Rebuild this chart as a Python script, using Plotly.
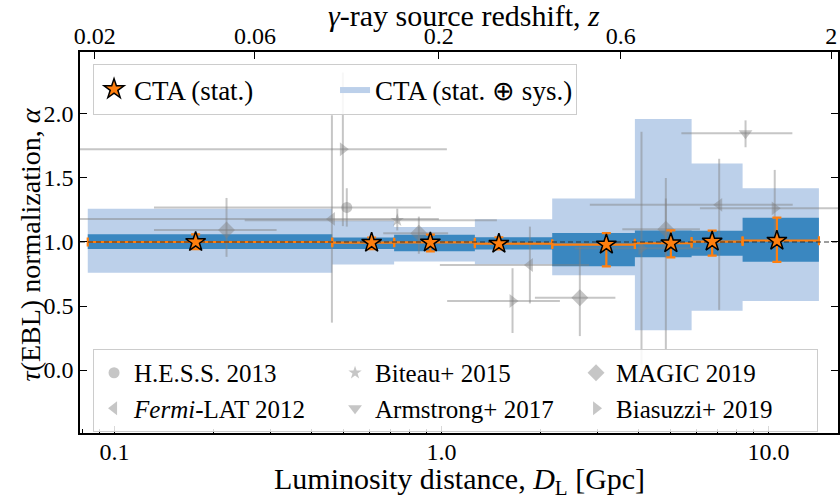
import numpy as np
import plotly.graph_objects as go

# ---------------- data ----------------
# CTA simulated constraints (luminosity-distance bins, Gpc)
cta_edges = [0.0828, 0.463, 0.716, 1.264, 2.179, 3.90, 5.815, 8.326, 14.25]
cta_dl = [0.177, 0.611, 0.924, 1.497, 3.19, 5.025, 6.72, 10.6]
cta_alpha = [1.00, 0.995, 0.997, 0.987, 0.98, 0.99, 1.003, 1.01]
cta_stat_up = [0.06, 0.04, 0.06, 0.05, 0.09, 0.10, 0.085, 0.18]
cta_stat_dn = [0.055, 0.05, 0.07, 0.045, 0.17, 0.11, 0.11, 0.165]
cta_tot_up = [0.26, 0.17, 0.12, 0.19, 0.36, 0.97, 0.61, 0.41]
cta_tot_dn = [0.24, 0.17, 0.15, 0.16, 0.24, 0.68, 0.54, 0.47]

# literature measurements: D_L [Gpc], x-range, alpha, alpha errors
hess_dl = [0.513]; hess_lo = [0.132]; hess_hi = [0.927]
hess_a = [1.27]; hess_up = [0.15]; hess_dn = [0.15]

fermi_dl = [0.462, 1.862, 7.06]; fermi_lo = [0.03, 0.988, 2.84]; fermi_hi = [0.981, 2.826, 11.85]
fermi_a = [1.18, 0.82, 1.29]; fermi_up = [0.81, 0.30, 0.36]; fermi_dn = [0.81, 0.30, 0.82]

biteau_dl = [0.732, 4.85]; biteau_lo = [0.25, 4.0]; biteau_hi = [1.476, 5.8]
biteau_a = [1.17, 0.99]; biteau_up = [0.09, 0.51]; biteau_dn = [0.08, 0.83]

armstrong_dl = [8.5]; armstrong_lo = [5.41]; armstrong_hi = [11.82]
armstrong_a = [1.85]; armstrong_up = [0.10]; armstrong_dn = [0.11]

magic_dl = [0.220, 0.852, 2.647, 4.85]; magic_lo = [0.132, 0.663, 1.929, 3.57]
magic_hi = [0.313, 1.047, 3.40, 6.166]
magic_a = [1.094, 1.068, 0.565, 1.10]; magic_up = [0.25, 0.13, 0.40, 0.24]
magic_dn = [0.21, 0.16, 0.30, 0.22]

biasuzzi_dl = [0.499, 1.648, 4.086, 10.44]; biasuzzi_lo = [0.03, 1.04, 2.555, 6.166]
biasuzzi_hi = [1.038, 2.30, 6.166, 20.0]
biasuzzi_a = [1.724, 0.539, 0.951, 1.263]; biasuzzi_up = [0.60, 0.256, 0.91, 0.30]
biasuzzi_dn = [0.60, 0.25, 0.91, 0.30]

# axes
x_range_gpc = [0.0784, 16.3]
y_range = [-0.492, 2.484]
y_ticks = [0.0, 0.5, 1.0, 1.5, 2.0]
x_tickvals = [0.1, 1.0, 10.0]
x_ticktext = ["0.1", "1.0", "10.0"]
z_ticks = [0.02, 0.06, 0.2, 0.6, 2.0]
z_ticktext = ["0.02", "0.06", "0.2", "0.6", "2"]
alpha_ref = 1.0

x_title = "Luminosity distance, <i>D</i><sub>L</sub> [Gpc]"
x2_title = "<i>γ</i>-ray source redshift, <i>z</i>"
y_title = "<i>τ</i>(EBL) normalization, <i>α</i>"

# ---------------- helpers ----------------
C_KMS = 299792.458


def lum_dist_gpc(z, H0=70.0, Om=0.3):
    zz = np.linspace(0.0, z, 4001)
    E = np.sqrt(Om * (1 + zz) ** 3 + 1 - Om)
    dc = C_KMS / H0 * np.trapezoid(1.0 / E, zz)
    return (1 + z) * dc / 1000.0


def boxes(edges, center, up, dn):
    xs, ys = [], []
    for i in range(len(center)):
        x0, x1 = edges[i], edges[i + 1]
        lo, hi = center[i] - dn[i], center[i] + up[i]
        xs += [x0, x1, x1, x0, x0, None]
        ys += [lo, lo, hi, hi, lo, None]
    return xs, ys


FONT = "Liberation Serif"
FS_TICK = 24
FS_TITLE = 30
FS_YTITLE = 28
FS_LEG1 = 27
FS_LEG2 = 25
GRAY = "rgba(128,128,128,0.45)"
LIGHT = "rgb(188,208,234)"
DARK = "rgb(58,135,192)"
ORANGE = "#ff7f0e"

fig = go.Figure()

# CTA stat+sys boxes
bx, by = boxes(cta_edges, cta_alpha, cta_tot_up, cta_tot_dn)
fig.add_trace(go.Scatter(x=bx, y=by, mode="lines", fill="toself", fillcolor=LIGHT,
                         line=dict(width=0, color=LIGHT), name="CTA (stat. ⊕ sys.)",
                         legend="legend", legendrank=2, hoverinfo="skip"))
# CTA stat boxes
bx, by = boxes(cta_edges, cta_alpha, cta_stat_up, cta_stat_dn)
fig.add_trace(go.Scatter(x=bx, y=by, mode="lines", fill="toself", fillcolor=DARK,
                         line=dict(width=0, color=DARK), showlegend=False, hoverinfo="skip"))

# literature
lit = [
    ("H.E.S.S. 2013", "circle", 11, hess_dl, hess_lo, hess_hi, hess_a, hess_up, hess_dn),
    ("Biteau+ 2015", "star", 10, biteau_dl, biteau_lo, biteau_hi, biteau_a, biteau_up, biteau_dn),
    ("MAGIC 2019", "diamond", 13, magic_dl, magic_lo, magic_hi, magic_a, magic_up, magic_dn),
    ("<i>Fermi</i>-LAT 2012", "triangle-left", 12, fermi_dl, fermi_lo, fermi_hi, fermi_a, fermi_up, fermi_dn),
    ("Armstrong+ 2017", "triangle-down", 12, armstrong_dl, armstrong_lo, armstrong_hi, armstrong_a, armstrong_up, armstrong_dn),
    ("Biasuzzi+ 2019", "triangle-right", 12, biasuzzi_dl, biasuzzi_lo, biasuzzi_hi, biasuzzi_a, biasuzzi_up, biasuzzi_dn),
]
for k, (name, sym, size, dl, lo, hi, a, up, dn) in enumerate(lit):
    dl = np.array(dl)
    fig.add_trace(go.Scatter(
        x=dl, y=a, mode="markers", name=name, legend="legend2", legendrank=10 + k,
        marker=dict(symbol=sym, size=size, color=GRAY, line=dict(width=0)),
        error_x=dict(type="data", symmetric=False, array=np.array(hi) - dl,
                     arrayminus=dl - np.array(lo), color=GRAY, thickness=2, width=0),
        error_y=dict(type="data", symmetric=False, array=up, arrayminus=dn,
                     color=GRAY, thickness=2, width=0),
        hoverinfo="skip"))

# CTA error bars
cdl = np.array(cta_dl)
fig.add_trace(go.Scatter(
    x=cdl, y=cta_alpha, mode="markers", showlegend=False,
    marker=dict(size=1, color="rgba(0,0,0,0)"),
    error_x=dict(type="data", symmetric=False, array=np.array(cta_edges[1:]) - cdl,
                 arrayminus=cdl - np.array(cta_edges[:-1]), color=ORANGE, thickness=2.2, width=4.5),
    error_y=dict(type="data", symmetric=False, array=cta_stat_up, arrayminus=cta_stat_dn,
                 color=ORANGE, thickness=2.2, width=4.5),
    hoverinfo="skip"))

# reference line alpha = 1
fig.add_trace(go.Scatter(x=x_range_gpc, y=[alpha_ref, alpha_ref], mode="lines",
                         line=dict(color="rgba(40,40,40,0.6)", width=1.3, dash="5px,3px"),
                         showlegend=False, hoverinfo="skip"))

# CTA stars
fig.add_trace(go.Scatter(x=cdl, y=cta_alpha, mode="markers", name="CTA (stat.)",
                         legend="legend", legendrank=1,
                         marker=dict(symbol="star", size=15, color=ORANGE,
                                     line=dict(color="black", width=1.5)),
                         hoverinfo="skip"))

# invisible trace on top (redshift) axis
fig.add_trace(go.Scatter(x=x_range_gpc, y=[alpha_ref, alpha_ref], xaxis="x2", mode="lines",
                         line=dict(width=0), opacity=0, showlegend=False, hoverinfo="skip"))

z_pos = [lum_dist_gpc(z) for z in z_ticks]
xr = [np.log10(x_range_gpc[0]), np.log10(x_range_gpc[1])]

axis_common = dict(showline=True, linecolor="black", linewidth=1.6, ticks="inside",
                   tickcolor="black", tickwidth=1.2, ticklen=7, showgrid=False,
                   zeroline=False, automargin=False,
                   tickfont=dict(family=FONT, size=FS_TICK, color="black"))

title_font = dict(family=FONT, size=FS_TITLE, color="black")

fig.update_layout(
    width=840, height=500,
    margin=dict(l=80, r=2, t=52, b=67),
    paper_bgcolor="white", plot_bgcolor="white",
    font=dict(family=FONT, size=FS_TICK, color="black"),
    xaxis=dict(type="log", range=xr, tickmode="array", tickvals=x_tickvals, ticktext=x_ticktext,
               minor=dict(ticks="inside", ticklen=4, tickcolor="black", tickwidth=1, dtick="D1"),
               ticklabelstandoff=-4, **axis_common),
    xaxis2=dict(type="log", range=xr, overlaying="x", side="top", anchor="y",
                tickmode="array", tickvals=z_pos, ticktext=z_ticktext,
                ticklabelstandoff=-3, **axis_common),
    yaxis=dict(range=y_range, tickmode="array", tickvals=y_ticks, tickformat=".1f",
               mirror="ticks", **axis_common),
    legend=dict(orientation="h", x=0.0172, y=0.9685, xanchor="left", yanchor="top",
                bgcolor="rgba(255,255,255,0.85)", bordercolor="#cccccc", borderwidth=1,
                font=dict(family=FONT, size=FS_LEG1), traceorder="normal",
                entrywidth=196, entrywidthmode="pixels"),
    legend2=dict(orientation="h", x=0.0172, y=0.2205, xanchor="left", yanchor="top",
                 bgcolor="rgba(255,255,255,0.85)", bordercolor="#cccccc", borderwidth=1,
                 font=dict(family=FONT, size=FS_LEG2),
                 entrywidth=196, entrywidthmode="pixels", traceorder="normal"),
    showlegend=True,
    annotations=[
        dict(text=x_title, xref="paper", yref="paper", x=0.5, y=-0.126,
             xanchor="center", yanchor="middle", showarrow=False, font=title_font),
        dict(text=x2_title, xref="paper", yref="paper", x=0.5066, y=1.097,
             xanchor="center", yanchor="middle", showarrow=False, font=title_font),
        dict(text=y_title, xref="paper", yref="paper", x=-0.066, y=0.495,
             xanchor="center", yanchor="middle", textangle=-90, showarrow=False,
             font=dict(family=FONT, size=FS_YTITLE, color="black")),
    ],
)

fig.write_html("out.html", config={"displayModeBar": False},
               post_script="document.body.style.margin='0px';")
